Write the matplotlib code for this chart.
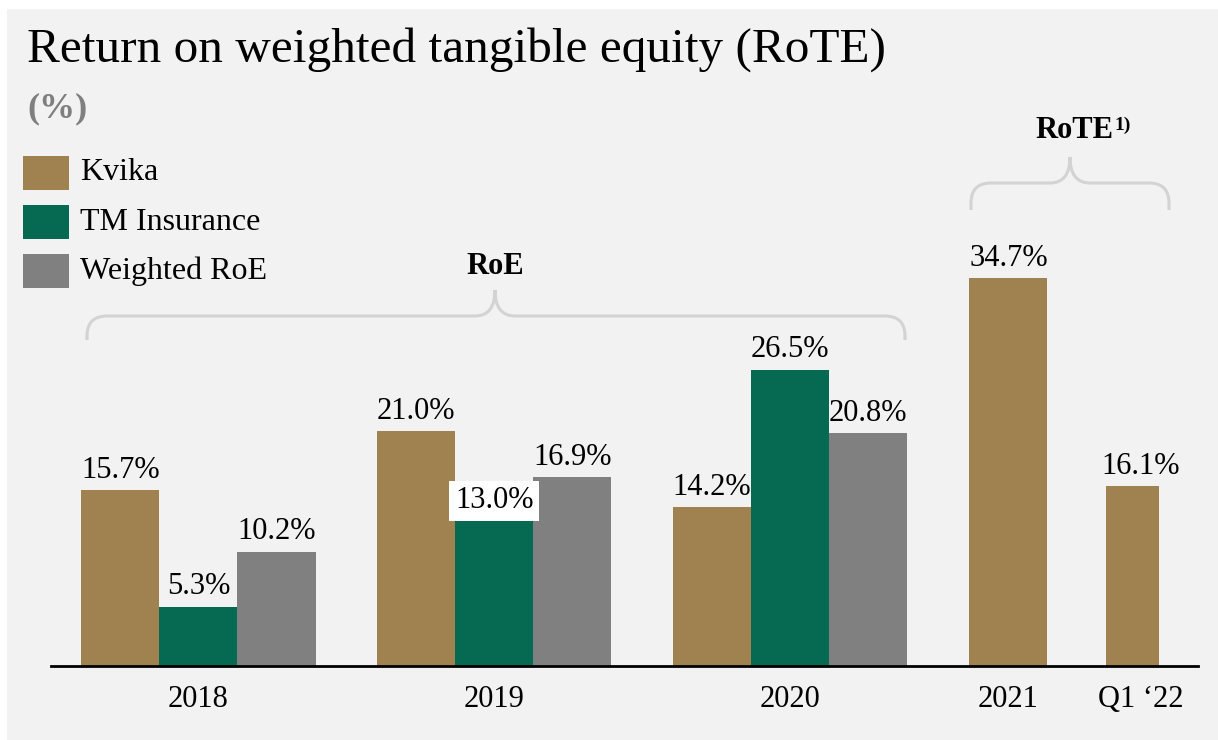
import matplotlib.pyplot as plt
from matplotlib.path import Path
from matplotlib.patches import PathPatch, Rectangle
from matplotlib.transforms import Affine2D

plt.rcParams['font.family'] = ['Liberation Serif', 'DejaVu Serif']

# data
groups = ['2018', '2019', '2020', '2021', 'Q1 \u201822']
kvika = [15.7, 21.0, 14.2, 34.7, 16.1]
tm_insurance = [5.3, 13.0, 26.5]
weighted_roe = [10.2, 16.9, 20.8]
series_names = ['Kvika', 'TM Insurance', 'Weighted RoE']
colors = ['#a08251', '#066a52', '#808080']

W, H = 1218, 740
fig = plt.figure(figsize=(W / 100, H / 100), dpi=100)
fig.patch.set_facecolor('white')

# pixel coordinates (origin top-left) for decorations
px = Affine2D().scale(1 / W, -1 / H).translate(0, 1) + fig.transFigure
fig.patches.append(Rectangle((7, 9), W, H, transform=px, facecolor='#f2f2f2',
                             edgecolor='none', zorder=-10))

# plot area
ax = fig.add_axes([51 / W, 74 / H, (1198 - 51) / W, (666 - 9) / H])
ax.set_facecolor('none')
ax.set_ylim(0, (666 - 9) / 11.18)
ax.set_xlim(-1.89, 12.81)

centers = [0, 3.79, 7.58, 10.38, 11.97]
label_x = [0, 3.79, 7.58, 10.38, 12.08]
offsets = [-1, 0, 1]
series = [kvika[:3], tm_insurance, weighted_roe]

for i, vals in enumerate(series):
    xs = [centers[g] + offsets[i] for g in range(3)]
    bars = ax.bar(xs, vals, width=1, color=colors[i], label=series_names[i])
    for b, v in zip(bars, vals):
        kw = {}
        if i == 1 and v == 13.0:
            kw['bbox'] = dict(facecolor='white', edgecolor='none', pad=4)
        ax.annotate(f'{v:.1f}%', (b.get_x() + b.get_width() / 2, v),
                    xytext=(0, 9), textcoords='offset points',
                    ha='center', va='baseline', fontsize=22, **kw)

bars = ax.bar(centers[3:], kvika[3:], width=[1, 0.69], color=colors[0])
for lx, v in zip(label_x[3:], kvika[3:]):
    ax.annotate(f'{v:.1f}%', (lx, v),
                xytext=(0, 9), textcoords='offset points',
                ha='center', va='baseline', fontsize=22)

ax.set_xticks(label_x)
ax.set_xticklabels(groups, fontsize=22)
ax.tick_params(axis='x', length=0, pad=14)
ax.set_yticks([])
for s in ['top', 'left', 'right']:
    ax.spines[s].set_visible(False)
ax.spines['bottom'].set_linewidth(2)
ax.spines['bottom'].set_color('black')

# title
fig.text(27, 62, 'Return on weighted tangible equity (RoTE)', transform=px,
         fontsize=35.5, va='baseline', ha='left')
fig.text(27, 117, '(%)', transform=px, fontsize=26, fontweight='bold',
         color='#7f7f7f', va='baseline', ha='left')

# legend
for k, (name, c) in enumerate(zip(series_names, colors)):
    y0 = 156 + k * 49
    fig.patches.append(Rectangle((23, y0), 46, 34, transform=px, facecolor=c,
                                 edgecolor='none'))
    fig.text(80, y0 + 17, name, transform=px, fontsize=23, va='center', ha='left')


def brace(x0, x1, xm, y_line, y_end, y_tip, r=20):
    verts = [(x0, y_end), (x0, y_line + r), (x0, y_line), (x0 + r, y_line),
             (xm - r, y_line), (xm, y_line), (xm, y_tip),
             (xm, y_line), (xm + r, y_line),
             (x1 - r, y_line), (x1, y_line), (x1, y_line + r), (x1, y_end)]
    codes = [Path.MOVETO, Path.LINETO, Path.CURVE3, Path.CURVE3,
             Path.LINETO, Path.CURVE3, Path.CURVE3,
             Path.CURVE3, Path.CURVE3,
             Path.LINETO, Path.CURVE3, Path.CURVE3, Path.LINETO]
    fig.patches.append(PathPatch(Path(verts, codes), transform=px, facecolor='none',
                                 edgecolor='#d3d3d3', linewidth=2.2))


brace(87, 905, 495, 316, 340, 290)
brace(971, 1169, 1070, 183, 210, 157)

fig.text(495, 274, 'RoE', transform=px, fontsize=22, fontweight='bold',
         ha='center', va='baseline')
fig.text(1113, 138, 'RoTE', transform=px, fontsize=22, fontweight='bold',
         ha='right', va='baseline')
fig.text(1114, 130, '1)', transform=px, fontsize=14, fontweight='bold',
         ha='left', va='baseline')

fig.savefig('out.png', dpi=100, facecolor=fig.get_facecolor())
